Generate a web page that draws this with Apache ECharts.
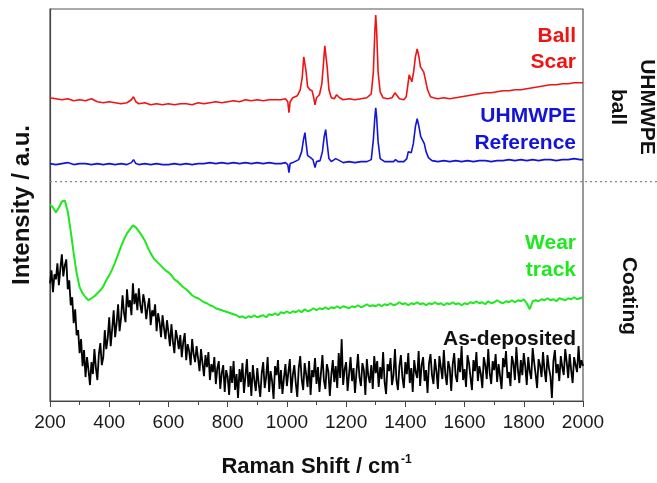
<!DOCTYPE html>
<html>
<head>
<meta charset="utf-8">
<script src="https://cdn.jsdelivr.net/npm/echarts@6/dist/echarts.min.js"></script>
<style>
  html, body { margin: 0; padding: 0; background: #fff; }
  #main { width: 657px; height: 483px; }
</style>
</head>
<body>
<div id="main"></div>
<script>
// x ticks
var xTicks = [200, 400, 600, 800, 1000, 1200, 1400, 1600, 1800, 2000];

// Ball scar (red), [shift, intensity]
var ballScar = [
  [200, 304], [220, 303], [240, 302], [260, 303], [280, 301], [300, 302], [320, 301], [340, 303],
  [360, 300], [380, 299], [400, 300], [420, 299], [440, 298], [460, 299], [475, 302], [482, 305],
  [490, 300], [500, 298], [520, 299], [540, 297], [560, 298], [580, 297], [600, 298], [620, 297],
  [640, 298], [660, 298], [680, 297], [700, 299], [720, 298], [740, 299], [760, 300], [780, 299],
  [800, 300], [820, 301], [840, 300], [860, 302], [880, 301], [900, 302], [920, 301], [940, 302],
  [960, 302], [980, 302], [995, 303], [1003, 300], [1007, 289], [1011, 300], [1020, 304], [1035, 306],
  [1045, 312], [1052, 325], [1057, 345], [1061, 347], [1065, 330], [1070, 315], [1078, 312], [1085, 311],
  [1090, 305], [1095, 297], [1100, 304], [1110, 307], [1118, 318], [1124, 340], [1128, 356], [1132, 355],
  [1136, 335], [1142, 312], [1150, 304], [1160, 303], [1168, 307], [1172, 309], [1178, 304], [1190, 302],
  [1210, 303], [1230, 302], [1250, 303], [1270, 304], [1285, 308], [1292, 330], [1297, 370], [1300, 387],
  [1303, 372], [1308, 330], [1315, 310], [1325, 304], [1340, 303], [1355, 304], [1365, 309], [1370, 308],
  [1380, 303], [1395, 302], [1403, 305], [1409, 318], [1413, 327], [1418, 325], [1422, 320], [1428, 330],
  [1434, 345], [1440, 353], [1446, 345], [1451, 335], [1457, 333], [1462, 330], [1468, 322], [1475, 312],
  [1485, 305], [1495, 304], [1510, 303], [1530, 304], [1550, 303], [1570, 304], [1590, 305], [1610, 306],
  [1630, 307], [1650, 308], [1670, 309], [1690, 309], [1710, 310], [1730, 311], [1750, 311], [1770, 312],
  [1790, 312], [1810, 313], [1830, 314], [1850, 315], [1870, 316], [1890, 317], [1910, 317], [1930, 318],
  [1950, 318], [1970, 319], [1990, 319], [2000, 319]
];

// UHMWPE reference (blue)
var uhmwpeRef = [
  [200, 238], [220, 237], [240, 238], [260, 239], [280, 237], [300, 238], [320, 238], [340, 237],
  [360, 238], [380, 237], [400, 238], [420, 237], [440, 238], [460, 237], [475, 239], [482, 242],
  [490, 238], [500, 237], [520, 238], [540, 237], [560, 238], [580, 237], [600, 237], [620, 238],
  [640, 237], [660, 238], [680, 237], [700, 238], [720, 238], [740, 239], [760, 238], [780, 239],
  [800, 238], [820, 239], [840, 238], [860, 239], [880, 238], [900, 239], [920, 238], [940, 239],
  [960, 238], [980, 238], [995, 239], [1003, 237], [1007, 229], [1011, 238], [1020, 239], [1040, 242],
  [1050, 250], [1056, 262], [1061, 269], [1065, 258], [1070, 246], [1080, 244], [1088, 242], [1095, 234],
  [1100, 240], [1112, 241], [1120, 250], [1126, 265], [1131, 272], [1136, 258], [1142, 243], [1150, 240],
  [1165, 243], [1171, 245], [1178, 241], [1190, 239], [1210, 240], [1230, 239], [1250, 240], [1270, 240],
  [1285, 242], [1292, 262], [1297, 284], [1300, 294], [1303, 285], [1308, 260], [1315, 243], [1330, 240],
  [1345, 240], [1360, 240], [1367, 242], [1375, 240], [1395, 240], [1405, 243], [1410, 250], [1414, 250],
  [1420, 249], [1427, 258], [1434, 275], [1440, 283], [1446, 275], [1452, 265], [1458, 264], [1464, 258],
  [1470, 250], [1478, 244], [1490, 241], [1510, 240], [1530, 241], [1550, 240], [1570, 241], [1590, 240],
  [1610, 241], [1630, 240], [1650, 241], [1670, 241], [1690, 240], [1710, 241], [1730, 241], [1750, 242],
  [1770, 241], [1790, 242], [1810, 241], [1830, 242], [1850, 241], [1870, 242], [1890, 242], [1910, 241],
  [1930, 242], [1950, 242], [1970, 243], [1990, 242], [2000, 242]
];

// Wear track (green), one value every 10 cm-1 from 200
var wearStart = 200, wearStep = 10;
var wearTrack = [
  197, 194, 189, 194, 200, 201, 190, 170, 148, 128,
  114, 108, 104, 101, 103, 105, 108, 111, 115, 121,
  126, 132, 139, 147, 155, 162, 168, 172, 176, 174,
  170, 166, 161, 154, 148, 143, 140, 137, 134, 131,
  129, 126, 122, 120, 117, 114, 112, 109, 106, 104,
  103, 101, 99, 98, 96, 95, 93, 92, 91, 90,
  89, 88, 87, 86, 84, 85, 83, 85, 84, 86,
  84, 85, 86, 84, 87, 86, 88, 86, 89, 88,
  90, 88, 90, 89, 91, 89, 92, 90, 91, 93,
  91, 93, 92, 94, 92, 94, 93, 95, 93, 95,
  94, 93, 95, 94, 96, 94, 95, 97, 95, 96,
  95, 97, 95, 97, 96, 98, 96, 97, 99, 97,
  98, 96, 98, 97, 99, 97, 98, 96, 98, 97,
  99, 97, 98, 96, 98, 97, 99, 97, 98, 96,
  98, 97, 99, 98, 100, 98, 99, 97, 100, 98,
  99, 101, 99, 98, 100, 99, 101, 99, 101, 100,
  102, 98, 92, 100, 101, 100, 102, 101, 103, 101,
  102, 100, 103, 102, 101, 103, 102, 104, 102, 103,
  104
];

// As-deposited (black), one value every 5 cm-1 from 200
var asDepStart = 200, asDepStep = 5;
var asDeposited = [
  118, 131, 109, 127, 122, 138, 116, 133, 147, 125, 136, 142, 112, 121, 96, 104, 78, 92, 66, 71,
  48, 62, 35, 51, 24, 44, 31, 16, 39, 27, 52, 33, 21, 47, 58, 36, 44, 71, 52, 63,
  84, 55, 72, 91, 64, 78, 97, 70, 83, 106, 88, 79, 112, 94, 101, 86, 118, 97, 108, 91,
  113, 96, 88, 107, 99, 82, 94, 103, 76, 91, 85, 97, 70, 88, 79, 64, 86, 73, 62, 81,
  69, 55, 77, 60, 48, 71, 63, 52, 66, 44, 59, 68, 41, 57, 50, 36, 62, 47, 39, 55,
  43, 30, 52, 38, 25, 46, 34, 49, 21, 37, 29, 44, 17, 33, 40, 12, 28, 36, 9, 31,
  24, 6, 35, 18, 40, 11, 27, 3, 32, 19, 38, 8, 25, 42, 14, 29, 5, 36, 21, 10,
  33, 17, 4, 28, 39, 13, 24, 44, 9, 30, 20, 2, 35, 26, 41, 12, 31, 7, 23, 37,
  15, 29, 42, 8, 26, 36, 18, 4, 33, 45, 22, 11, 38, 27, 14, 40, 6, 31, 24, 43,
  17, 34, 9, 28, 46, 21, 12, 37, 30, 5, 26, 41, 19, 35, 13, 48, 23, 62, 16, 32,
  39, 10, 27, 44, 20, 33, 8, 29, 47, 24, 15, 38, 31, 6, 42, 25, 18, 36, 12, 45,
  28, 40, 14, 34, 22, 49, 19, 7, 37, 30, 43, 16, 26, 52, 21, 11, 35, 46, 24, 13,
  39, 27, 48, 18, 33, 9, 41, 29, 23, 50, 15, 36, 44, 20, 31, 8, 38, 47, 26, 17,
  42, 30, 12, 45, 34, 22, 51, 27, 16, 40, 33, 10, 37, 48, 25, 19, 43, 29, 55, 21,
  32, 14, 46, 38, 24, 11, 41, 30, 49, 20, 35, 27, 13, 44, 36, 22, 52, 28, 17, 40,
  31, 47, 19, 37, 25, 12, 43, 34, 50, 23, 29, 15, 45, 38, 21, 54, 32, 18, 41, 26,
  48, 35, 16, 44, 30, 22, 53, 39, 27, 13, 42, 36, 24, 49, 31, 19, 46, 33, 25, 3,
  40, 51, 28, 37, 20, 45, 34, 26, 52, 39, 23, 47, 31, 18, 44, 36, 29, 55, 33, 41,
  35
];

// level of the dotted divider between ball and coating spectra
var dividerLevel = 220;

function pairs(start, step, vals) {
  return vals.map(function (v, i) { return [start + i * step, v]; });
}

var font = "'Liberation Sans', Arial, sans-serif";
var chart = echarts.init(document.getElementById('main'), null, { renderer: 'canvas' });

function lineSeries(name, data, color, width) {
  return {
    name: name,
    type: 'line',
    data: data,
    showSymbol: false,
    symbol: 'none',
    clip: true,
    lineStyle: { color: color, width: width },
    emphasis: { disabled: true },
    z: 3
  };
}

var option = {
  animation: false,
  backgroundColor: '#fff',
  grid: {
    left: 50, right: 74, top: 9, bottom: 81,
    show: true, borderColor: '#555', borderWidth: 1.2
  },
  xAxis: {
    type: 'value',
    min: xTicks[0],
    max: xTicks[xTicks.length - 1],
    interval: 200,
    axisLine: { lineStyle: { color: '#444', width: 1.2 } },
    axisTick: { show: true, inside: false, length: 6, lineStyle: { color: '#444' } },
    minorTick: { show: true, splitNumber: 2, length: 4, lineStyle: { color: '#444' } },
    splitLine: { show: false },
    axisLabel: {
      fontSize: 19, color: '#1a1a1a', fontFamily: font, margin: 12,
      formatter: function (v) { return String(v); }
    },
    name: '{a|Raman Shift / cm}{b|-1}',
    nameLocation: 'middle',
    nameGap: 53,
    nameTextStyle: {
      rich: {
        a: { fontSize: 22, fontWeight: 'bold', color: '#111', fontFamily: font },
        b: { fontSize: 12, fontWeight: 'bold', color: '#111', fontFamily: font, padding: [0, 0, 14, 1] }
      }
    }
  },
  yAxis: {
    type: 'value',
    min: 0,
    max: 393,
    axisLine: { show: true, lineStyle: { color: '#444', width: 1.2 } },
    axisTick: { show: false },
    axisLabel: { show: false },
    splitLine: { show: false },
    name: 'Intensity / a.u.',
    nameLocation: 'middle',
    nameGap: 16,
    nameTextStyle: { fontSize: 24, fontWeight: 'bold', color: '#111', fontFamily: font }
  },
  series: [
    lineSeries('As-deposited', pairs(asDepStart, asDepStep, asDeposited), '#000000', 1.8),
    lineSeries('Wear track', pairs(wearStart, wearStep, wearTrack), '#1ee81e', 2),
    lineSeries('UHMWPE Reference', uhmwpeRef, '#1414d8', 1.6),
    lineSeries('Ball Scar', ballScar, '#ee1414', 1.6)
  ]
};
chart.setOption(option);

// annotations: dotted divider across plot and side panel, curve labels, group labels
var p0 = chart.convertToPixel({ gridIndex: 0 }, [xTicks[0], dividerLevel]);
var labelStyle = function (text, color, x, y) {
  return {
    type: 'text', x: x, y: y, z: 10,
    style: { text: text, fill: color, font: 'bold 21px ' + font, textAlign: 'right', textVerticalAlign: 'middle' }
  };
};
chart.setOption({
  graphic: [
    {
      type: 'line', z: 5,
      shape: { x1: p0[0], y1: p0[1], x2: 657, y2: p0[1] },
      style: { stroke: '#888', lineWidth: 1.2, lineDash: [2, 3] }
    },
    labelStyle('Ball', '#ee1414', 576, 36),
    labelStyle('Scar', '#ee1414', 576, 62),
    labelStyle('UHMWPE', '#1414d8', 576, 116),
    labelStyle('Reference', '#1414d8', 576, 143),
    labelStyle('Wear', '#1ee81e', 576, 243),
    labelStyle('track', '#1ee81e', 576, 270),
    labelStyle('As-deposited', '#111', 576, 339),
    {
      type: 'text', x: 632, y: 107, rotation: -Math.PI / 2, z: 10,
      style: { text: 'UHMWPE\nball', fill: '#111', font: 'bold 21px ' + font, textAlign: 'center', textVerticalAlign: 'middle', lineHeight: 29 }
    },
    {
      type: 'text', x: 629, y: 296, rotation: -Math.PI / 2, z: 10,
      style: { text: 'Coating', fill: '#111', font: 'bold 21px ' + font, textAlign: 'center', textVerticalAlign: 'middle' }
    }
  ]
});
</script>
</body>
</html>
